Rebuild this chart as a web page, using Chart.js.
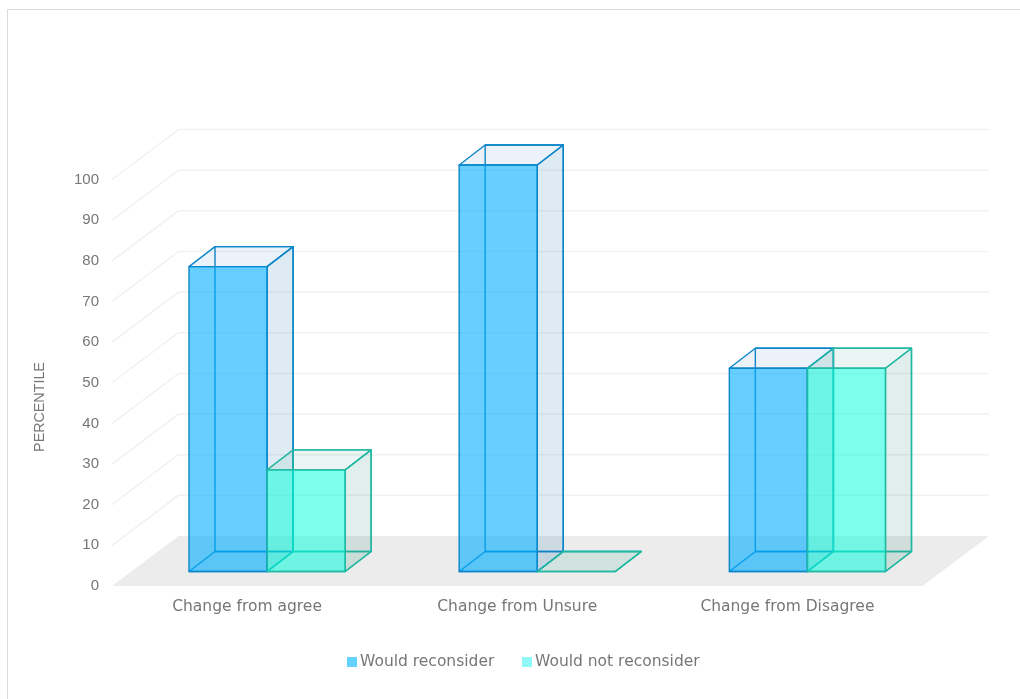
<!DOCTYPE html>
<html>
<head>
<meta charset="utf-8">
<title>Reconsider chart</title>
<script src="https://cdn.jsdelivr.net/npm/chart.js@4"></script>
<style>
  html, body { margin: 0; padding: 0; background: #fff; overflow: hidden; }
  #wrap { position: relative; width: 1020px; height: 699px; }
  #frame { position: absolute; left: 7px; top: 9px; right: -5px; bottom: -5px; border: 1px solid #dcdcdc; }
  canvas { position: absolute; left: 0; top: 0; }
</style>
</head>
<body>
<div id="wrap">
  <canvas id="chart" width="1020" height="699"></canvas>
  <div id="frame"></div>
</div>
<script>
// Data
const categories = ['Change from agree', 'Change from Unsure', 'Change from Disagree'];
const reconsiderValues = [75, 100, 50];
const notReconsiderValues = [25, 0, 50];
const seriesNames = ['Would reconsider', 'Would not reconsider'];
const legendColors = ['#66d2ff', '#8ff8f8'];
const yTicks = [0, 10, 20, 30, 40, 50, 60, 70, 80, 90, 100];
const yTitle = 'PERCENTILE';

// Depth of the floor and of each box, in pixels
const FLOOR_DX = 66.5, FLOOR_DY = -50;
const BOX_DX = 26, BOX_DY = -20;
const BOX_SHIFT_X = 20, BOX_SHIFT_Y = -14.5;

const TEXT_FONT = '"DejaVu Sans", sans-serif';
const NUMBER_FONT = '"Liberation Sans", sans-serif';

function polygon(ctx, pts, fill, stroke) {
  ctx.beginPath();
  pts.forEach((p, i) => (i ? ctx.lineTo(p[0], p[1]) : ctx.moveTo(p[0], p[1])));
  ctx.closePath();
  if (fill) {
    ctx.fillStyle = fill;
    ctx.fill();
  }
  if (stroke) {
    ctx.strokeStyle = stroke;
    ctx.stroke();
  }
}

// Draw one box from a bar element
function drawBox(ctx, bar, dataset) {
  const x0 = bar.x - bar.width / 2 + BOX_SHIFT_X;
  const x1 = x0 + bar.width;
  const top = bar.y + BOX_SHIFT_Y;
  const base = bar.base + BOX_SHIFT_Y;
  const dx = BOX_DX, dy = BOX_DY;

  ctx.lineWidth = 1.4;
  ctx.lineJoin = 'round';

  // back edges, seen through the box
  polygon(ctx, [[x0 + dx, base + dy], [x1 + dx, base + dy], [x1 + dx, top + dy], [x0 + dx, top + dy]], null, dataset.borderColor);
  // bottom
  polygon(ctx, [[x0, base], [x1, base], [x1 + dx, base + dy], [x0 + dx, base + dy]], dataset.bottomColor, dataset.borderColor);
  // right side
  polygon(ctx, [[x1, base], [x1 + dx, base + dy], [x1 + dx, top + dy], [x1, top]], dataset.sideColor, dataset.borderColor);
  // lid
  polygon(ctx, [[x0, top], [x1, top], [x1 + dx, top + dy], [x0 + dx, top + dy]], dataset.lidColor, dataset.borderColor);
  // front
  if (base > top) {
    polygon(ctx, [[x0, base], [x1, base], [x1, top], [x0, top]], dataset.backgroundColor, dataset.borderColor);
  }
}

// Walls, floor, then the boxes in series order so later series sit on top
const boxesPlugin = {
  id: 'boxes',
  beforeDatasetsDraw(chart) {
    const { ctx, chartArea, scales } = chart;
    const { left, right, bottom } = chartArea;

    ctx.save();
    ctx.lineWidth = 1.5;
    ctx.strokeStyle = '#f1f1f1';
    scales.y.ticks.forEach(tick => {
      if (tick.value === 0) return;
      const y = scales.y.getPixelForValue(tick.value);
      ctx.beginPath();
      ctx.moveTo(left, y);
      ctx.lineTo(left + FLOOR_DX, y + FLOOR_DY);
      ctx.lineTo(right + FLOOR_DX, y + FLOOR_DY);
      ctx.stroke();
    });
    polygon(ctx, [
      [left, bottom],
      [right, bottom],
      [right + FLOOR_DX, bottom + FLOOR_DY],
      [left + FLOOR_DX, bottom + FLOOR_DY]
    ], '#ececec');

    chart.data.datasets.forEach((dataset, i) => {
      chart.getDatasetMeta(i).data.forEach(bar => drawBox(ctx, bar, dataset));
    });
    ctx.restore();
  },
  // the flat default bars are replaced by the boxes above
  beforeDatasetDraw() {
    return false;
  }
};

// Axis title and legend
const textPlugin = {
  id: 'labels',
  afterDraw(chart) {
    const { ctx } = chart;
    const boxX = [347, 522];
    ctx.save();
    ctx.font = '15.5px ' + TEXT_FONT;
    ctx.textBaseline = 'middle';
    ctx.textAlign = 'left';
    seriesNames.forEach((name, i) => {
      ctx.fillStyle = legendColors[i];
      ctx.fillRect(boxX[i], 657, 10, 10);
      ctx.fillStyle = '#777';
      ctx.fillText(name, boxX[i] + 13, 662);
    });

    ctx.translate(40, 407);
    ctx.rotate(-Math.PI / 2);
    ctx.textAlign = 'center';
    ctx.font = '14.3px ' + NUMBER_FONT;
    ctx.fillText(yTitle, 0, 0);
    ctx.restore();
  }
};

new Chart(document.getElementById('chart'), {
  type: 'bar',
  data: {
    labels: categories,
    datasets: [
      {
        label: seriesNames[0],
        data: reconsiderValues,
        backgroundColor: 'rgba(0, 175, 255, 0.6)',
        borderColor: '#0b86c9',
        sideColor: 'rgba(40, 120, 170, 0.15)',
        lidColor: 'rgba(60, 130, 200, 0.1)',
        bottomColor: 'rgba(0, 100, 200, 0.05)'
      },
      {
        label: seriesNames[1],
        data: notReconsiderValues,
        backgroundColor: 'rgba(0, 255, 222, 0.51)',
        borderColor: '#1fb8a2',
        sideColor: 'rgba(40, 140, 120, 0.14)',
        lidColor: 'rgba(60, 170, 150, 0.1)',
        bottomColor: 'rgba(60, 170, 150, 0.05)'
      }
    ]
  },
  options: {
    responsive: false,
    animation: false,
    events: [],
    layout: { padding: { top: 179.5, right: 97.5, left: 0, bottom: 0 } },
    categoryPercentage: 0.578,
    barPercentage: 1,
    scales: {
      x: {
        grid: { display: false },
        border: { display: false },
        afterFit: scale => { scale.height = 113; },
        ticks: {
          padding: 4,
          maxRotation: 0,
          color: '#777',
          font: { family: TEXT_FONT, size: 15.5 }
        }
      },
      y: {
        min: 0,
        max: 100,
        afterFit: scale => { scale.width = 112; },
        afterBuildTicks: scale => { scale.ticks = yTicks.map(value => ({ value })); },
        grid: { display: false, drawTicks: false },
        border: { display: false },
        ticks: {
          padding: 13,
          color: '#777',
          font: { family: NUMBER_FONT, size: 15 }
        }
      }
    },
    plugins: {
      legend: { display: false },
      tooltip: { enabled: false }
    }
  },
  plugins: [boxesPlugin, textPlugin]
});
</script>
</body>
</html>
